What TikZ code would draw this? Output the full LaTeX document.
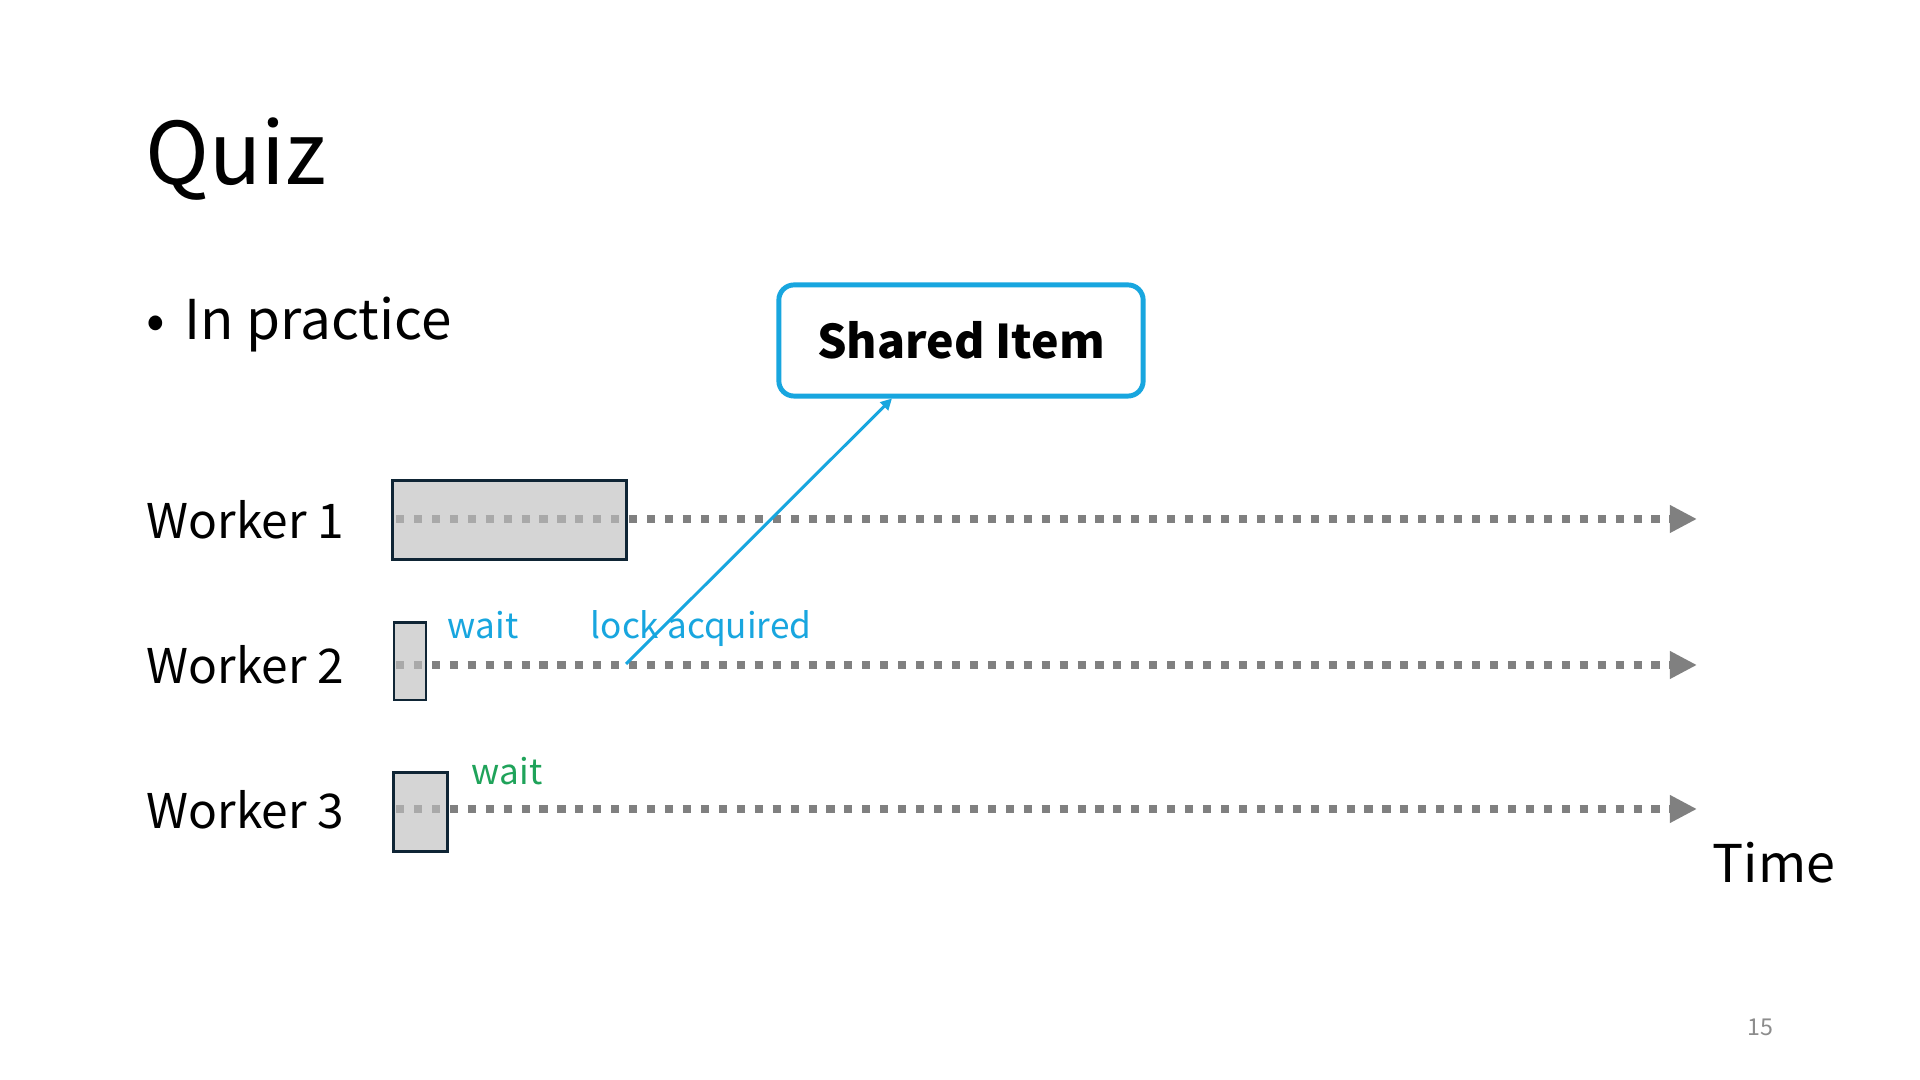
\documentclass[tikz,border=0pt]{standalone}
\usepackage{fontspec}
\setmainfont{Noto Sans CJK JP}
\usetikzlibrary{arrows.meta,calc}
\definecolor{tlgray}{RGB}{128,128,128}
\definecolor{boxfill}{RGB}{192,192,192}
\definecolor{boxline}{RGB}{15,37,53}
\definecolor{lockblue}{RGB}{24,166,223}
\definecolor{waitgreen}{RGB}{31,163,90}
\definecolor{pagegray}{RGB}{140,140,140}
\tikzset{
  timeline/.style={draw=tlgray, line width=2.3pt, dash pattern=on 2.3pt off 2.8pt,
    -{Triangle[length=7.7pt,width=7.4pt]}},
  wbox/.style={draw=boxline, line width=0.85pt, fill=boxfill, fill opacity=0.65,
    draw opacity=1, inner sep=0pt, text opacity=1},
  shared/.style={draw=lockblue, line width=1.4pt, rounded corners=4.3pt, fill=white,
    minimum width=103.6pt, minimum height=31.6pt, inner sep=0pt,
    font=\fontsize{13.2pt}{16pt}\selectfont\bfseries},
  lockline/.style={draw=lockblue, line width=0.85pt, -{Triangle[length=3.2pt,width=3.2pt]}},
  label/.style={anchor=base west, inner sep=0pt},
  worker/.style={label, font=\fontsize{13.6pt}{16pt}\selectfont},
  small/.style={label, font=\fontsize{10pt}{12pt}\selectfont},
}
\begin{document}
\begin{tikzpicture}[x=0.01cm,y=-0.01cm]
\useasboundingbox (0,0) rectangle (1920,1080);
\fill[white] (0,0) rectangle (1920,1080);

% title and bullet
\node[label, font=\fontsize{24.5pt}{30pt}\selectfont] (title) at (145,185) {Quiz};
\node[label, font=\fontsize{15.6pt}{18pt}\selectfont] (bullet) at (146,340) {•};
\node[label, font=\fontsize{15.6pt}{18pt}\selectfont] (practice) at (184,340) {In practice};

% worker labels
\node[worker] (w1) at (146,539) {Worker 1};
\node[worker] (w2) at (146,684) {Worker 2};
\node[worker] (w3) at (146,829) {Worker 3};

% timelines
\coordinate (s1) at (396,519);
\coordinate (e1) at (1697,519);
\coordinate (s2) at (396,665);
\coordinate (e2) at (1697,665);
\coordinate (s3) at (396,809);
\coordinate (e3) at (1697,809);
\draw[timeline] (s1) -- (e1);
\draw[timeline] (s2) -- (e2);
\draw[timeline] (s3) -- (e3);

% work boxes
\node[wbox, minimum width=66.3pt, minimum height=22.2pt] (b1) at (509.5,520) {};
\node[wbox, minimum width=9.1pt, minimum height=21.9pt] (b2) at (410,661.5) {};
\node[wbox, minimum width=15.1pt, minimum height=22.2pt] (b3) at (420.5,812) {};

% labels on timelines
\node[small, text=lockblue] (wait2) at (447,639) {wait};
\node[small, text=lockblue] (lock) at (590,639) {lock acquired};
\node[small, text=waitgreen] (wait3) at (471,785) {wait};

% shared item
\node[shared] (si) at (961,340.5) {Shared Item};
\coordinate (la) at (626,664);
\coordinate (sit) at ($(si.south west)!0.313!(si.south east)$);
\draw[lockline] (la) -- (sit);

% time axis label and page number
\node[label, font=\fontsize{14.8pt}{18pt}\selectfont] (time) at (1712,883) {Time};
\node[label, text=pagegray, font=\fontsize{6.6pt}{8pt}\selectfont] (page) at (1747,1036) {15};
\end{tikzpicture}
\end{document}
